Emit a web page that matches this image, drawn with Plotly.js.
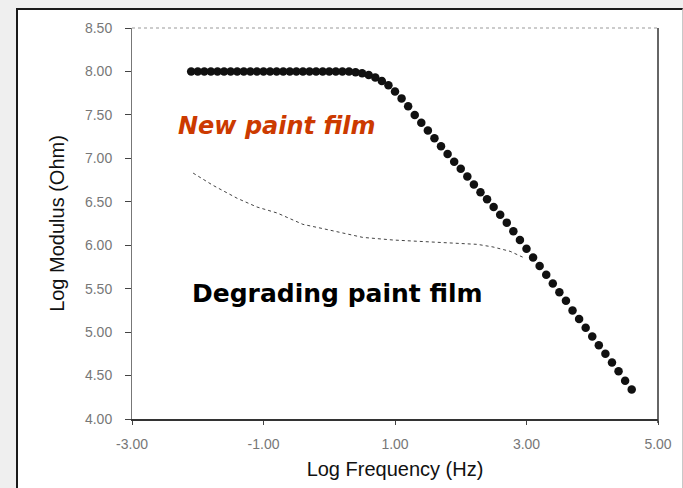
<!DOCTYPE html>
<html>
<head>
<meta charset="utf-8">
<script src="https://cdn.plot.ly/plotly-3.0.1.min.js"></script>
<style>
  html, body { margin: 0; padding: 0; background: #efefef; }
  #frame { position: absolute; left: 16px; top: 8px; width: 664px; height: 490px;
           background: #ffffff; border-top: 2px solid #1a1a1a; border-left: 2px solid #1a1a1a;
           border-right: 1px solid #c8c8c8; }
  #chart { position: absolute; left: 0; top: 0; width: 683px; height: 488px; }
</style>
</head>
<body>
<div id="frame"></div>
<div id="chart"></div>
<script>
// New paint film: log frequency (Hz) and log modulus (Ohm)
const newFilmLogFreq = [
  -2.1, -2.0, -1.9, -1.8, -1.7, -1.6, -1.5, -1.4, -1.3, -1.2, -1.1, -1.0, -0.9, -0.8,
  -0.7, -0.6, -0.5, -0.4, -0.3, -0.2, -0.1, 0.0, 0.1, 0.2, 0.3, 0.4, 0.5, 0.6, 0.7,
  0.8, 0.9, 1.0, 1.1, 1.2, 1.3, 1.4, 1.5, 1.6, 1.7, 1.8, 1.9, 2.0, 2.1, 2.2, 2.3, 2.4,
  2.5, 2.6, 2.7, 2.8, 2.9, 3.0, 3.1, 3.2, 3.3, 3.4, 3.5, 3.6, 3.7, 3.8, 3.9, 4.0, 4.1,
  4.2, 4.3, 4.4, 4.5, 4.6
];
const newFilmLogMod = [
  8.00, 8.00, 8.00, 8.00, 8.00, 8.00, 8.00, 8.00, 8.00, 8.00, 8.00, 8.00, 8.00, 8.00,
  8.00, 8.00, 8.00, 8.00, 8.00, 8.00, 8.00, 8.00, 8.00, 8.00, 8.00, 7.99, 7.98, 7.96, 7.93,
  7.89, 7.84, 7.77, 7.69, 7.60, 7.50, 7.41, 7.32, 7.23, 7.14, 7.05, 6.96, 6.88, 6.79, 6.70, 6.61, 6.53,
  6.44, 6.35, 6.26, 6.16, 6.06, 5.96, 5.86, 5.76, 5.66, 5.56, 5.46, 5.36, 5.25, 5.15, 5.05, 4.95, 4.85,
  4.75, 4.65, 4.55, 4.44, 4.34
];

// Degrading paint film
const degradingLogFreq = [-2.07, -1.77, -1.40, -1.10, -0.79, -0.40, -0.09, 0.21, 0.51, 0.97, 1.53, 2.25, 2.49, 2.75, 2.95];
const degradingLogMod  = [6.83, 6.69, 6.54, 6.44, 6.37, 6.24, 6.19, 6.14, 6.09, 6.06, 6.04, 6.01, 5.98, 5.93, 5.86];

// Axis ticks
const xTickVals = [-3, -1, 1, 3, 5];
const xTickText = ['-3.00', '-1.00', '1.00', '3.00', '5.00'];
const yTickVals = [4.0, 4.5, 5.0, 5.5, 6.0, 6.5, 7.0, 7.5, 8.0, 8.5];
const yTickText = ['4.00', '4.50', '5.00', '5.50', '6.00', '6.50', '7.00', '7.50', '8.00', '8.50'];

const labelNew = 'New paint film';
const labelDegrading = 'Degrading paint film';

const traces = [
  {
    x: degradingLogFreq, y: degradingLogMod, type: 'scatter', mode: 'lines',
    line: { color: '#444444', width: 1, dash: '3px,3px' },
    hoverinfo: 'skip', showlegend: false
  },
  {
    x: newFilmLogFreq, y: newFilmLogMod, type: 'scatter', mode: 'markers',
    marker: { color: '#111111', size: 8.5 },
    showlegend: false
  }
];

const tickFont = { family: 'Liberation Sans, Arial, sans-serif', size: 14, color: '#777777' };
const titleFont = { family: 'Liberation Sans, Arial, sans-serif', size: 20, color: '#111111' };

const layout = {
  width: 683, height: 488,
  margin: { l: 132, r: 25, t: 28, b: 69 },
  paper_bgcolor: 'rgba(0,0,0,0)',
  plot_bgcolor: '#ffffff',
  showlegend: false,
  xaxis: {
    range: [-3, 5], tickvals: xTickVals, ticktext: xTickText,
    showgrid: false, zeroline: false,
    showline: true, linecolor: '#333333', linewidth: 1.5,
    ticks: 'outside', ticklen: 4, tickcolor: '#444444',
    tickfont: tickFont, ticklabelstandoff: 8,
    title: { text: 'Log Frequency (Hz)', font: titleFont, standoff: 10 }
  },
  yaxis: {
    range: [4, 8.5], tickvals: yTickVals, ticktext: yTickText,
    showgrid: false, zeroline: false,
    showline: true, linecolor: '#777777', linewidth: 1,
    ticks: 'outside', ticklen: 6, tickcolor: '#444444',
    tickfont: tickFont, ticklabelstandoff: 10,
    title: { text: 'Log Modulus (Ohm)', font: titleFont, standoff: 14 }
  },
  shapes: [
    { type: 'line', xref: 'paper', yref: 'paper', x0: 1, x1: 1, y0: -0.01, y1: 1,
      line: { color: '#333333', width: 1.5 } },
    { type: 'line', xref: 'paper', yref: 'paper', x0: 0, x1: 1, y0: 1, y1: 1,
      line: { color: '#999999', width: 1, dash: 'dot' } }
  ],
  annotations: [
    { x: -0.80, y: 7.37, xref: 'x', yref: 'y', text: labelNew, showarrow: false,
      font: { family: 'DejaVu Sans, sans-serif', size: 24, color: '#cc3a00', weight: 'bold', style: 'italic' } },
    { x: 0.13, y: 5.45, xref: 'x', yref: 'y', text: labelDegrading, showarrow: false,
      font: { family: 'DejaVu Sans, sans-serif', size: 25, color: '#000000', weight: 'bold' } }
  ]
};

Plotly.newPlot('chart', traces, layout, { displayModeBar: false, staticPlot: true });
</script>
</body>
</html>
